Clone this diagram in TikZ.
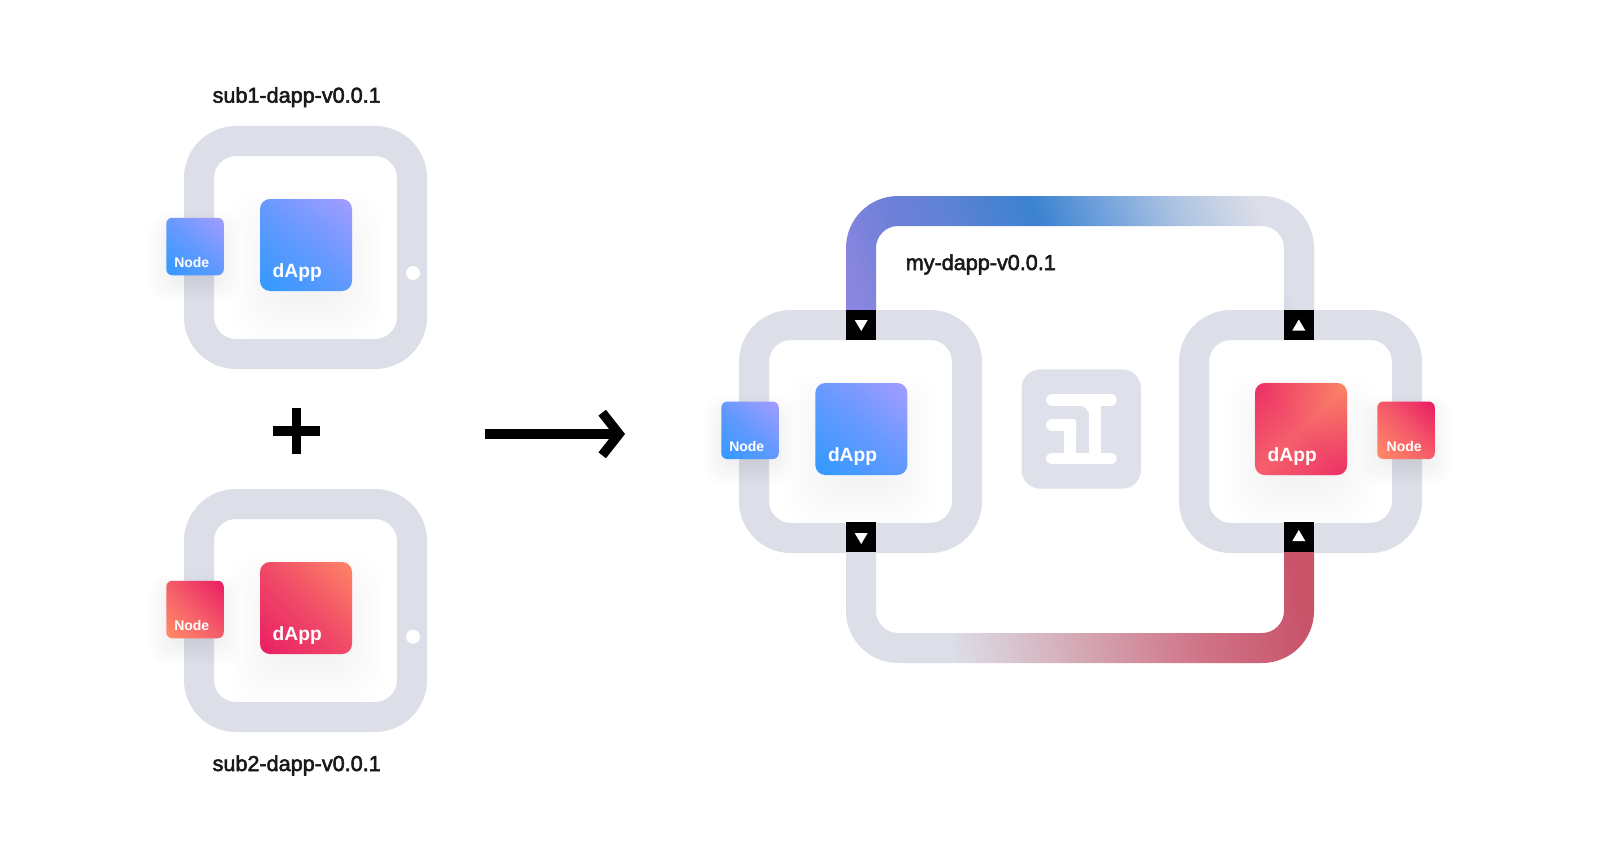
\documentclass[tikz,border=0pt]{standalone}
\usepackage{fontspec}
\setmainfont{Liberation Sans}
\newfontfamily\labelfont[FakeBold=2.5]{Liberation Sans}
\usetikzlibrary{calc}

\definecolor{ringgray}{HTML}{DCDEE8}
\definecolor{logogray}{HTML}{DFE1EA}
\definecolor{appblue}{HTML}{3399FF}
\definecolor{appmid}{HTML}{6499FF}
\definecolor{apppurple}{HTML}{A29CFF}
\definecolor{apppink}{HTML}{E91E63}
\definecolor{apprmedian}{HTML}{F04A68}
\definecolor{apporange}{HTML}{FF8566}
\definecolor{nodemedian}{HTML}{F55C6A}
\definecolor{flowA}{HTML}{8A86E0}
\definecolor{flowB}{HTML}{6F80D8}
\definecolor{flowC}{HTML}{5E82D4}
\definecolor{flowD}{HTML}{3A82D0}
\definecolor{flowE}{HTML}{6FA0DC}
\definecolor{flowF}{HTML}{AEC4E2}
\definecolor{flowG}{HTML}{D4A8B4}
\definecolor{flowH}{HTML}{D07488}
\definecolor{flowI}{HTML}{C9546A}
\definecolor{crossend}{HTML}{E30060}
\definecolor{crossmid}{HTML}{F5606C}
\definecolor{glowend}{HTML}{FFAA60}

% Gradients of the two flows
\pgfdeclarehorizontalshading{topflow}{100bp}{
    color(0bp)=(flowA); color(41.75bp)=(flowA);
    color(44.5bp)=(flowB); color(47.6bp)=(flowC);
    color(51.6bp)=(flowD); color(54.7bp)=(flowE);
    color(58.4bp)=(flowF); color(62.2bp)=(ringgray);
    color(100bp)=(ringgray)}
\pgfdeclarehorizontalshading{bottomflow}{100bp}{
    color(0bp)=(ringgray); color(41.7bp)=(ringgray);
    color(48.1bp)=(flowG); color(54bp)=(flowH);
    color(59.3bp)=(flowI); color(100bp)=(flowI)}
% Gradients of the boxes
\pgfdeclarehorizontalshading{bluebox}{100bp}{
    color(0bp)=(appblue); color(16bp)=(appblue);
    color(50bp)=(appmid);
    color(84bp)=(apppurple); color(100bp)=(apppurple)}
\pgfdeclarehorizontalshading{redbox}{100bp}{
    color(0bp)=(apppink); color(14.6bp)=(apppink);
    color(50bp)=(apprmedian);
    color(85.4bp)=(apporange); color(100bp)=(apporange)}
\pgfdeclarehorizontalshading{rednode}{100bp}{
    color(0bp)=(apppink); color(16bp)=(apppink);
    color(50bp)=(nodemedian);
    color(80bp)=(apporange); color(100bp)=(apporange)}
\pgfdeclarehorizontalshading{redcross}{100bp}{
    color(0bp)=(crossend); color(14.6bp)=(crossend);
    color(50bp)=(crossmid);
    color(85.4bp)=(crossend); color(100bp)=(crossend)}
\pgfdeclarehorizontalshading{redglow}{100bp}{
    color(0bp)=(crossmid); color(50bp)=(crossmid);
    color(85.4bp)=(glowend); color(100bp)=(glowend)}

\tikzset{
    ring/.style={draw=ringgray, line width=30pt, rounded corners=37pt},
    appsquare/.style={shade, minimum size=92pt, inner sep=0pt, rounded corners=10pt},
    nodesquare/.style={shade, minimum size=57.5pt, inner sep=0pt, rounded corners=6pt},
    portsquare/.style={fill=black, minimum size=30pt, inner sep=0pt},
    dapptext/.style={font=\bfseries\fontsize{19.2}{23}\selectfont, text=white, anchor=base west, inner sep=0pt},
    nodetext/.style={font=\bfseries\fontsize{14}{17}\selectfont, text=white, anchor=base west, inner sep=0pt},
    nametext/.style={font=\labelfont\fontsize{21.6}{25}\selectfont, text=black!90, anchor=base, inner sep=0pt},
    logostroke/.style={draw=white, line width=11.7pt, line cap=round}
}

\begin{document}
\begin{tikzpicture}[x=1pt, y=-1pt]
    \useasboundingbox (0,0) rectangle (1600,856);
    \fill[white] (0,0) rectangle (1600,856);

    % Box centres
    \coordinate (A) at (306,245);   \coordinate (B) at (306,608);
    \coordinate (L) at (861.3,429); \coordinate (R) at (1301,429);
    \coordinate (An) at (195,246.5);  \coordinate (Bn) at (195,609.5);
    \coordinate (Ln) at (750,430.3); \coordinate (Rn) at (1406,430.3);

    % 1. Rings
    \foreach \x/\y in {199/141, 199/504, 754/325, 1194/325} {
        \draw[ring] (\x,\y) rectangle ++(213,213);
    }

    % 2. Flows between the rings (grey fading into colour)
    \begin{scope}
        \clip (846,310) [rounded corners=52pt] -- (846,196) -- (1314,196) [sharp corners] -- (1314,310)
              -- (1284,310) [rounded corners=22pt] -- (1284,226) -- (876,226) [sharp corners] -- (876,310) -- cycle;
        \shade[shading=topflow, shading angle=20] (580,-70) rectangle (1580,930);
    \end{scope}
    \begin{scope}
        \clip (846,552) [rounded corners=52pt] -- (846,663) -- (1314,663) [sharp corners] -- (1314,552)
              -- (1284,552) [rounded corners=22pt] -- (1284,633) -- (876,633) [sharp corners] -- (876,552) -- cycle;
        \shade[shading=bottomflow, shading angle=10] (580,-70) rectangle (1580,930);
    \end{scope}

    % 3. Ports
    \node[portsquare] (portLT) at (861,325) {};
    \node[portsquare] (portLB) at (861,537) {};
    \node[portsquare] (portRT) at (1299,325) {};
    \node[portsquare] (portRB) at (1299,537) {};
    \fill[white] (854.7,320) -- (867.7,320) -- (861.2,331) -- cycle;
    \fill[white] (854.7,533) -- (867.7,533) -- (861.2,544) -- cycle;
    \fill[white] (1292.3,330.5) -- (1305.3,330.5) -- (1298.8,319.5) -- cycle;
    \fill[white] (1292.3,541) -- (1305.3,541) -- (1298.8,530) -- cycle;

    % 4. White dots of the two parts
    \fill[white] (413,273) circle (7);
    \fill[white] (413,636.7) circle (7);

    % 5. Logo
    \fill[logogray, rounded corners=19pt] (1021.5,369.3) rectangle (1141,488.7);
    \draw[logostroke] (1052,399.8) -- (1110.8,399.8);
    \draw[logostroke] (1052,458.5) -- (1110.8,458.5);
    \fill[white] (1089.3,400) rectangle (1101,458);
    \fill[white] (1078,405) -- (1089.5,405) -- (1089.5,417) .. controls (1089.5,410) and (1085,405.5) .. (1078,405.5) -- cycle;
    \draw[logostroke] (1052,425) -- (1070,425);
    \fill[white, rounded corners=2pt] (1064.3,419.2) -- (1076,419.2) -- (1076,440) -- (1064.3,440) -- cycle;
    \fill[white] (1064.3,430) rectangle (1076,458);

    % 6. Soft shadows
    \foreach \p in {A,B,L,R} {
        \begin{scope}[shift={(\p)}]
            \foreach \s in {-34,-30,...,30} {
                \fill[black, opacity=0.005, rounded corners=30pt] (-46-\s,-26-\s) rectangle (46+\s,66+\s);
            }
        \end{scope}
    }
    \foreach \p in {An,Bn,Ln,Rn} {
        \begin{scope}[shift={(\p)}]
            \foreach \s in {-20,-17,...,16} {
                \fill[black, opacity=0.007, rounded corners=18pt] (-29-\s,-19-\s) rectangle (29+\s,39+\s);
            }
        \end{scope}
    }

    % 7. dApp boxes
    \node[appsquare, shading=bluebox, shading angle=50] (Aapp) at (A) {};
    \node[appsquare, shading=redbox, shading angle=45] (Bapp) at (B) {};
    \node[appsquare, shading=bluebox, shading angle=50] (Lapp) at (L) {};
    \node[appsquare, shading=redcross, shading angle=135] (Rapp) at (R) {};
    \shade[shading=redglow, shading angle=45, opacity=0.5, rounded corners=10pt] (Rapp.south west) rectangle (Rapp.north east);

    % 8. Node boxes
    \node[nodesquare, shading=bluebox, shading angle=50] (Anode) at (An) {};
    \node[nodesquare, shading=rednode, shading angle=225] (Bnode) at (Bn) {};
    \node[nodesquare, shading=bluebox, shading angle=50] (Lnode) at (Ln) {};
    \node[nodesquare, shading=rednode, shading angle=225] (Rnode) at (Rn) {};

    % 9. Texts in the boxes
    \foreach \p in {Aapp,Bapp,Lapp,Rapp} {
        \node[dapptext] (\p text) at ([shift={(12.7,-14)}]\p.south west) {dApp};
    }
    \foreach \p/\dx in {Anode/8,Bnode/8,Lnode/8,Rnode/9.4} {
        \node[nodetext] (\p text) at ([shift={(\dx,-8)}]\p.south west) {Node};
    }

    % 10. Names
    \node[nametext] (nameA) at (296.7,102.7) {sub1-dapp-v0.0.1};
    \node[nametext] (nameB) at (296.7,771) {sub2-dapp-v0.0.1};
    \node[nametext] (nameM) at (980.8,270) {my-dapp-v0.0.1};

    % 11. Plus and arrow
    \coordinate (plusW) at (273.3,431); \coordinate (plusE) at (320,431);
    \coordinate (plusN) at (296.7,408); \coordinate (plusS) at (296.7,454);
    \draw[line width=9.4pt] (plusW) -- (plusE);
    \draw[line width=9.4pt] (plusN) -- (plusS);
    \coordinate (arrowA) at (485,434); \coordinate (arrowB) at (619,434);
    \draw[line width=9.5pt] (arrowA) -- (arrowB);
    \draw[line width=9.5pt] (602.2,412.7) -- (arrowB) -- (602.2,455.3);
\end{tikzpicture}
\end{document}
